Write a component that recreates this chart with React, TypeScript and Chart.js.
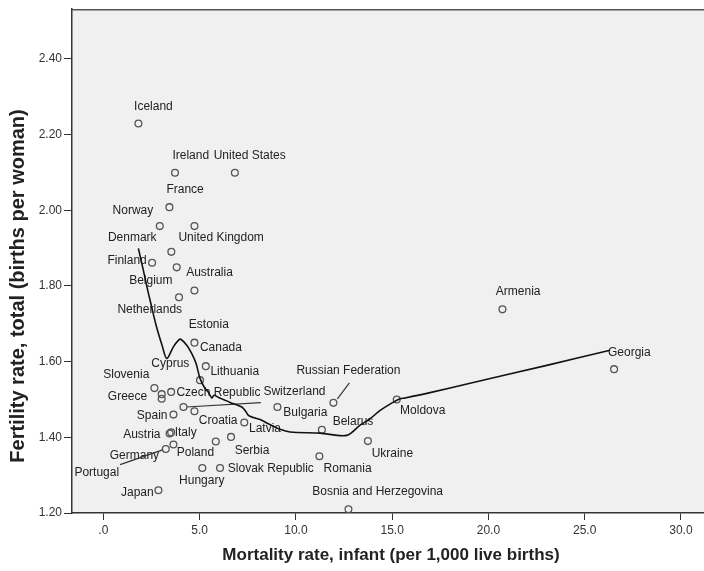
import React, { useEffect, useRef } from 'react';
import { Chart, registerables } from 'chart.js';

Chart.register(...registerables);

// ---------------- DATA ----------------
const COUNTRIES = [
  'Iceland', 'Ireland', 'United States', 'France', 'Norway', 'United Kingdom',
  'Denmark', 'Finland', 'Australia', 'Belgium', 'Netherlands', 'Canada',
  'Lithuania', 'Estonia', 'Slovenia', 'Greece', 'Cyprus', 'Czech Republic',
  'Switzerland', 'Croatia', 'Spain', 'Latvia', 'Bulgaria', 'Austria', 'Italy',
  'Poland', 'Serbia', 'Germany', 'Portugal', 'Hungary', 'Slovak Republic',
  'Japan', 'Bosnia and Herzegovina', 'Romania', 'Russian Federation',
  'Belarus', 'Ukraine', 'Moldova', 'Armenia', 'Georgia',
];

const INFANT_MORTALITY = [
  1.82, 3.72, 6.83, 3.43, 2.93, 4.73,
  3.53, 2.53, 3.81, 4.73, 3.93, 4.73,
  5.32, 5.02, 2.65, 3.03, 3.03, 3.52,
  4.16, 4.73, 3.64, 7.32, 9.04, 3.44, 3.52,
  5.84, 6.63, 3.64, 3.24, 5.14, 6.06,
  2.86, 12.73, 11.22, 11.95,
  11.35, 13.74, 15.24, 20.73, 26.53,
];

const FERTILITY = [
  2.229, 2.099, 2.099, 2.008, 1.958, 1.958,
  1.890, 1.861, 1.849, 1.788, 1.770, 1.650,
  1.588, 1.551, 1.530, 1.514, 1.502, 1.520,
  1.480, 1.469, 1.460, 1.439, 1.480, 1.410, 1.413,
  1.389, 1.401, 1.381, 1.369, 1.319, 1.319,
  1.260, 1.210, 1.350, 1.491,
  1.420, 1.390, 1.500, 1.738, 1.580,
];

// Loess fit line
const LOESS_X = [
  1.818, 2.078, 2.270, 2.426, 2.738, 3.049, 3.294, 3.636, 3.896, 4.021,
  4.332, 4.592, 4.816, 5.023, 5.283, 5.455, 5.631, 5.751, 5.958, 6.234,
  6.582, 7.190, 7.361, 7.532, 7.792, 8.140, 8.571, 9.179, 9.699, 11.257,
  12.644, 13.335, 13.855, 14.374, 15.065, 15.413, 15.673, 16.971, 19.049,
  23.034, 26.322,
];
const LOESS_Y = [
  1.899, 1.841, 1.796, 1.762, 1.696, 1.643, 1.608, 1.639, 1.656, 1.659,
  1.643, 1.621, 1.595, 1.555, 1.529, 1.519, 1.504, 1.511, 1.506, 1.500,
  1.492, 1.480, 1.471, 1.458, 1.452, 1.447, 1.436, 1.421, 1.414, 1.411,
  1.405, 1.432, 1.449, 1.471, 1.493, 1.502, 1.504, 1.518, 1.543,
  1.590, 1.630,
];

const X_TICKS = [0, 5, 10, 15, 20, 25, 30];
const X_TICK_LABELS = ['.0', '5.0', '10.0', '15.0', '20.0', '25.0', '30.0'];
const Y_TICKS = [1.2, 1.4, 1.6, 1.8, 2.0, 2.2, 2.4];
const Y_TICK_LABELS = ['1.20', '1.40', '1.60', '1.80', '2.00', '2.20', '2.40'];

const X_TITLE = 'Mortality rate, infant (per 1,000 live births)';
const Y_TITLE = 'Fertility rate, total (births per woman)';

// ---------------- LAYOUT (label placement, pixels relative to point) ----------------
const LABEL_OFFSETS: Record<string, [number, number]> = {
  'Iceland': [15, -17.3],
  'Ireland': [15.8, -16.6],
  'United States': [14.8, -16.6],
  'France': [15.7, -17.4],
  'Norway': [-26.9, -15],
  'United Kingdom': [26.7, 11.6],
  'Denmark': [-39.1, -14.4],
  'Finland': [-25, -1.7],
  'Australia': [32.8, 5.3],
  'Belgium': [-43.6, -10],
  'Netherlands': [-29.3, 12],
  'Canada': [26.5, 5.4],
  'Lithuania': [29, 5.3],
  'Estonia': [8.8, -55],
  'Slovenia': [-28.1, -13.7],
  'Greece': [-34.2, 2.7],
  'Cyprus': [8.6, -35],
  'Czech Republic': [47.3, 1],
  'Switzerland': [111, -15],
  'Croatia': [23.7, 10],
  'Spain': [-21.3, 1.4],
  'Latvia': [20.7, 6],
  'Bulgaria': [27.9, 6],
  'Austria': [-27.8, 1],
  'Italy': [14.5, 0],
  'Poland': [-20.4, 11.7],
  'Serbia': [21, 13.3],
  'Germany': [-39, 10.7],
  'Portugal': [-69, 24],
  'Hungary': [-0.6, 12.3],
  'Slovak Republic': [50.8, 0.6],
  'Japan': [-21.1, 2.3],
  'Bosnia and Herzegovina': [29.2, -18],
  'Romania': [28.2, 12.3],
  'Russian Federation': [15, -31.7],
  'Belarus': [31.1, -7.6],
  'Ukraine': [24.5, 12.6],
  'Moldova': [26, 11.7],
  'Armenia': [15.7, -17.3],
  'Georgia': [15.2, -16.7],
};

// leader lines: [startDx, startDy, endDx, endDy]
const LEADERS: Record<string, [number, number, number, number]> = {
  'Switzerland': [3, 0, 77.4, -4.4],
  'Portugal': [-2.4, 0.6, -45.7, 15.6],
  'Russian Federation': [4, -4, 16, -20],
};

const FONT = '"Liberation Sans", Arial, Helvetica, sans-serif';

const decorPlugin = {
  id: 'decor',
  beforeDraw(chart: any) {
    const { ctx, chartArea, width, height } = chart;
    ctx.save();
    ctx.fillStyle = '#ffffff';
    ctx.fillRect(0, 0, width, height);
    ctx.fillStyle = '#f0f0f0';
    ctx.fillRect(chartArea.left, chartArea.top, chartArea.right - chartArea.left, chartArea.bottom - chartArea.top);
    ctx.restore();
  },
  beforeDatasetsDraw(chart: any) {
    const { ctx } = chart;
    const meta = chart.getDatasetMeta(1);
    ctx.save();
    ctx.font = `12px ${FONT}`;
    ctx.fillStyle = '#222222';
    ctx.textAlign = 'center';
    ctx.textBaseline = 'middle';
    meta.data.forEach((pt: any, i: number) => {
      const name = COUNTRIES[i];
      const off = LABEL_OFFSETS[name] || [15, -17];
      ctx.fillText(name, pt.x + off[0], pt.y + off[1]);
      const ld = LEADERS[name];
      if (ld) {
        ctx.beginPath();
        ctx.strokeStyle = '#333333';
        ctx.lineWidth = 1.2;
        ctx.moveTo(pt.x + ld[0], pt.y + ld[1]);
        ctx.lineTo(pt.x + ld[2], pt.y + ld[3]);
        ctx.stroke();
      }
    });
    ctx.restore();
  },
  afterDraw(chart: any) {
    const { ctx, chartArea } = chart;
    ctx.save();
    ctx.strokeStyle = '#555555';
    ctx.lineWidth = 1.5;
    ctx.beginPath();
    ctx.moveTo(chartArea.left, chartArea.top + 0.5);
    ctx.lineTo(chartArea.right, chartArea.top + 0.5);
    ctx.stroke();

    ctx.fillStyle = '#222222';
    ctx.textAlign = 'center';
    ctx.textBaseline = 'middle';
    ctx.font = `bold 17px ${FONT}`;
    ctx.fillText(X_TITLE, 391, 555);
    ctx.font = `bold 20px ${FONT}`;
    ctx.translate(18, 286);
    ctx.rotate(-Math.PI / 2);
    ctx.fillText(Y_TITLE, 0, 0);
    ctx.restore();
  },
};

export default function App() {
  const canvasRef = useRef<HTMLCanvasElement | null>(null);

  useEffect(() => {
    if (!canvasRef.current) return;
    const chart = new Chart(canvasRef.current, {
      type: 'scatter',
      data: {
        datasets: [
          {
            label: 'Loess',
            data: LOESS_X.map((x, i) => ({ x, y: LOESS_Y[i] })),
            showLine: true,
            borderColor: '#111111',
            borderWidth: 1.6,
            pointRadius: 0,
            fill: false,
            tension: 0.3,
          } as any,
          {
            label: 'Countries',
            data: COUNTRIES.map((_, i) => ({ x: INFANT_MORTALITY[i], y: FERTILITY[i] })),
            pointStyle: 'circle',
            pointRadius: 3.4,
            borderColor: '#555555',
            borderWidth: 1.3,
            backgroundColor: 'rgba(0,0,0,0)',
          } as any,
        ],
      },
      options: {
        animation: false,
        responsive: false,
        events: [],
        layout: { autoPadding: false, padding: { top: 9, left: 0, right: 0, bottom: 0 } },
        plugins: { legend: { display: false }, tooltip: { enabled: false } },
        scales: {
          x: {
            type: 'linear',
            min: -1.63,
            max: 31.2,
            afterBuildTicks: (s: any) => { s.ticks = X_TICKS.map((v) => ({ value: v })); },
            afterFit: (s: any) => { s.height = 58; },
            grid: { drawOnChartArea: false, drawTicks: true, tickLength: 7, tickColor: '#333333', tickWidth: 1 },
            border: { display: true, color: '#333333', width: 1.5 },
            ticks: {
              callback: (_v: any, i: number) => X_TICK_LABELS[i],
              font: { family: FONT, size: 12 },
              color: '#333333',
              padding: 3,
              maxRotation: 0,
              autoSkip: false,
            },
          },
          y: {
            type: 'linear',
            min: 1.2,
            max: 2.531,
            afterBuildTicks: (s: any) => { s.ticks = Y_TICKS.map((v) => ({ value: v })); },
            afterFit: (s: any) => { s.width = 72; },
            grid: { drawOnChartArea: false, drawTicks: true, tickLength: 8, tickColor: '#333333', tickWidth: 1 },
            border: { display: true, color: '#333333', width: 1.5 },
            ticks: {
              callback: (_v: any, i: number) => Y_TICK_LABELS[i],
              font: { family: FONT, size: 12 },
              color: '#333333',
              padding: 2,
              autoSkip: false,
            },
          },
        },
      },
      plugins: [decorPlugin],
    });
    return () => chart.destroy();
  }, []);

  return (
    <div style={{ position: 'absolute', left: 0, top: 0, width: 704, height: 571, background: '#fff' }}>
      <canvas ref={canvasRef} width={704} height={571} style={{ display: 'block', width: 704, height: 571 }} />
    </div>
  );
}
